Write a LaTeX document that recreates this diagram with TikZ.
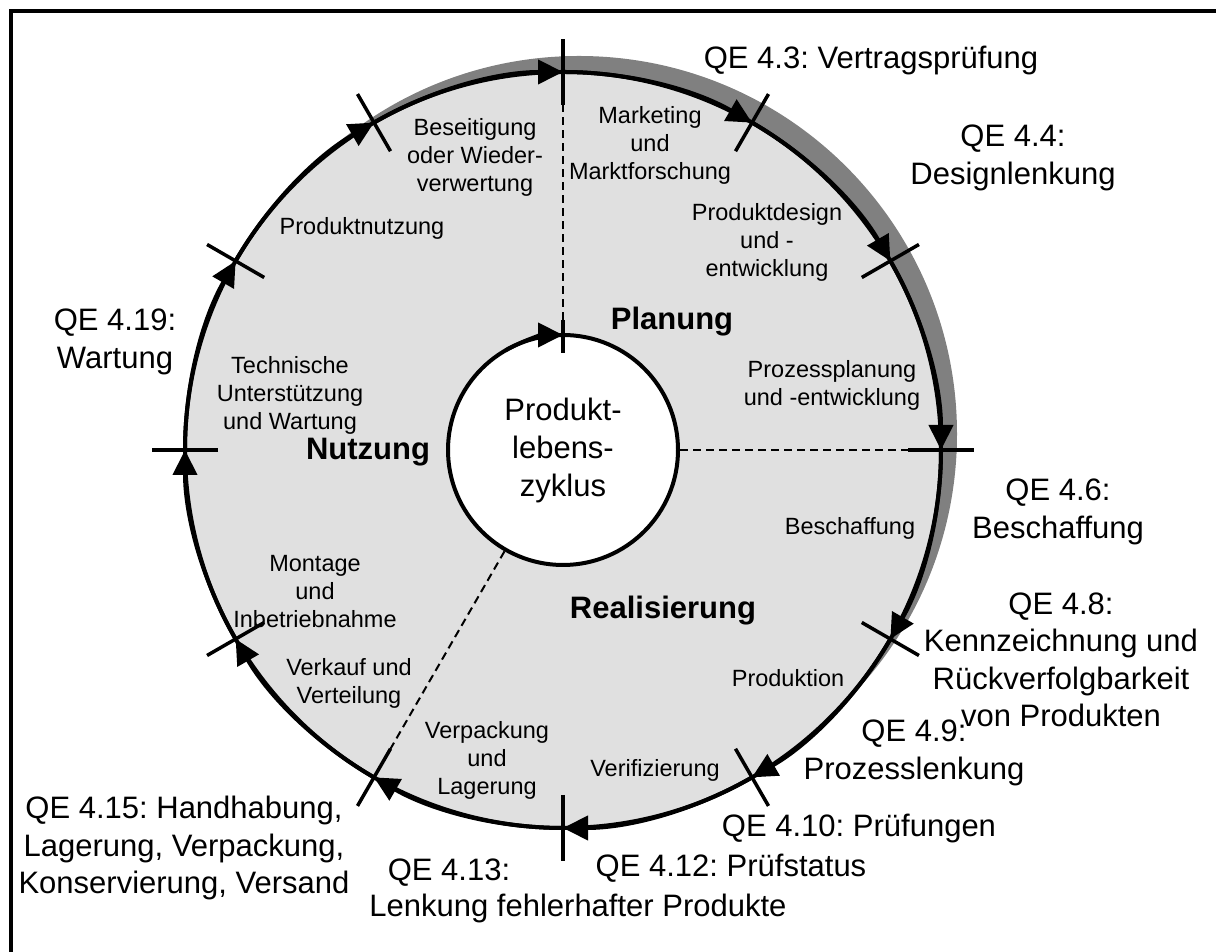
\documentclass[tikz,border=0pt]{standalone}
\usepackage{fontspec}
\setmainfont{Liberation Sans}
\usetikzlibrary{arrows.meta}
\definecolor{discfill}{HTML}{E0E0E0}
\definecolor{shadowgray}{HTML}{808080}
\frenchspacing
\begin{document}
\begin{tikzpicture}[x=1pt,y=1pt,
  qe/.style={font=\fontsize{31}{37.5}\selectfont, align=center, inner sep=0pt},
  phase/.style={font=\fontsize{23.5}{28}\selectfont, align=center, inner sep=0pt},
  stage/.style={font=\fontsize{31}{36}\selectfont\bfseries, inner sep=0pt},
  ring/.style={line width=4pt},
  tickmark/.style={line width=3.5pt},
  divider/.style={line width=2pt, dash pattern=on 8pt off 5pt},
  flow/.style={line width=4pt, -{Triangle[length=25pt,width=24pt]}},
]
\useasboundingbox (0,0) rectangle (1216,952);
\clip (0,0) rectangle (1216,952);
\def\R{378}
\def\ri{115}
\coordinate (C) at (563,502);

% frame
\draw[line width=4pt] (10.5,-10) |- (1230,940.5);

% cycle disc with its offset shadow
\fill[shadowgray] (579,518) circle[radius=\R];
\filldraw[fill=discfill, ring] (C) circle[radius=\R];

% stage boundaries on the outer ring
\foreach \a [count=\i] in {90,60,30,0,-30,-60,-90,-120,-150,-180,-210,-240}{
  \coordinate (t\i) at ([shift={(\a:\R)}]C);
  \coordinate (tin\i) at ([shift={(\a:{\R-33})}]C);
  \coordinate (tout\i) at ([shift={(\a:{\R+33})}]C);
}
% clockwise flow arrows ending at each boundary
\foreach \a/\from/\to in {90/12/1,60/1/2,30/2/3,0/3/4,-30/4/5,-60/5/6,-90/6/7,-120/7/8,-150/8/9,-180/9/10,-210/10/11,-240/11/12}{
  \draw[flow] (t\from) arc[start angle=\a+30, end angle=\a, radius=\R];
}
\foreach \i in {1,...,12}{
  \draw[tickmark] (tin\i) -- (tout\i);
}

% inner circle
\node[circle, draw, fill=white, ring, minimum size=230pt, inner sep=0pt,
      font=\fontsize{31}{38}\selectfont, align=center] (core) at (C)
  {Produkt-\\lebens-\\zyklus};
\coordinate (cs) at ([shift={(120:\ri)}]C);
\coordinate (ctop) at ([shift={(90:\ri+15)}]C);
\coordinate (cbot) at ([shift={(90:\ri-18)}]C);
\draw[flow] (cs) arc[start angle=120, end angle=90, radius=\ri];
\draw[tickmark] (cbot) -- (ctop);

% phase dividers
\draw[divider] (ctop) -- (tin1);
\draw[divider] (core.east) -- (tin4);
\draw[divider] (core.240) -- (tin8);

% phase names
\node[stage] (planung) at (672,630) {Planung};
\node[stage] (nutzung) at (368,500) {Nutzung};
\node[stage] (real) at (663,341) {Realisierung};

% stages inside the ring
\node[phase] (s1) at (475,795) {Beseitigung\\oder Wieder-\\verwertung};
\node[phase] (s2) at (650,807) {Marketing\\und\\Marktforschung};
\node[phase] (s3) at (767,710) {Produktdesign\\und -\\entwicklung};
\node[phase] (s4) at (832,567) {Prozessplanung\\und -entwicklung};
\node[phase] (s5) at (850,424) {Beschaffung};
\node[phase] (s6) at (788,274) {Produktion};
\node[phase] (s7) at (655,182) {Verifizierung};
\node[phase] (s8) at (487,192) {Verpackung\\und\\Lagerung};
\node[phase] (s9) at (349,269) {Verkauf und\\Verteilung};
\node[phase] (s10) at (315,360) {Montage\\und\\Inbetriebnahme};
\node[phase] (s11) at (290,557) {Technische\\Unterstützung\\und Wartung};
\node[phase] (s12) at (362,724) {Produktnutzung};

% quality elements
\node[qe] (q43) at (871,891) {QE 4.3: Vertragsprüfung};
\node[qe] (q44) at (1013,794) {QE 4.4:\\Designlenkung};
\node[qe] (q46) at (1058,440) {QE 4.6:\\Beschaffung};
\node[qe] (q48) at (1061,292) {QE 4.8:\\Kennzeichnung und\\Rückverfolgbarkeit\\von Produkten};
\node[qe] (q49) at (914,199) {QE 4.9:\\Prozesslenkung};
\node[qe] (q410) at (859,123) {QE 4.10: Prüfungen};
\node[qe] (q412) at (731,84) {QE 4.12: Prüfstatus};
\node[qe] (q413) at (449,79) {QE 4.13:};
\node[qe] (q413b) at (578,44) {Lenkung fehlerhafter Produkte};
\node[qe] (q415) at (184,104) {QE 4.15: Handhabung,\\Lagerung, Verpackung,\\Konservierung, Versand};
\node[qe] (q419) at (115,610) {QE 4.19:\\Wartung};
\end{tikzpicture}
\end{document}
